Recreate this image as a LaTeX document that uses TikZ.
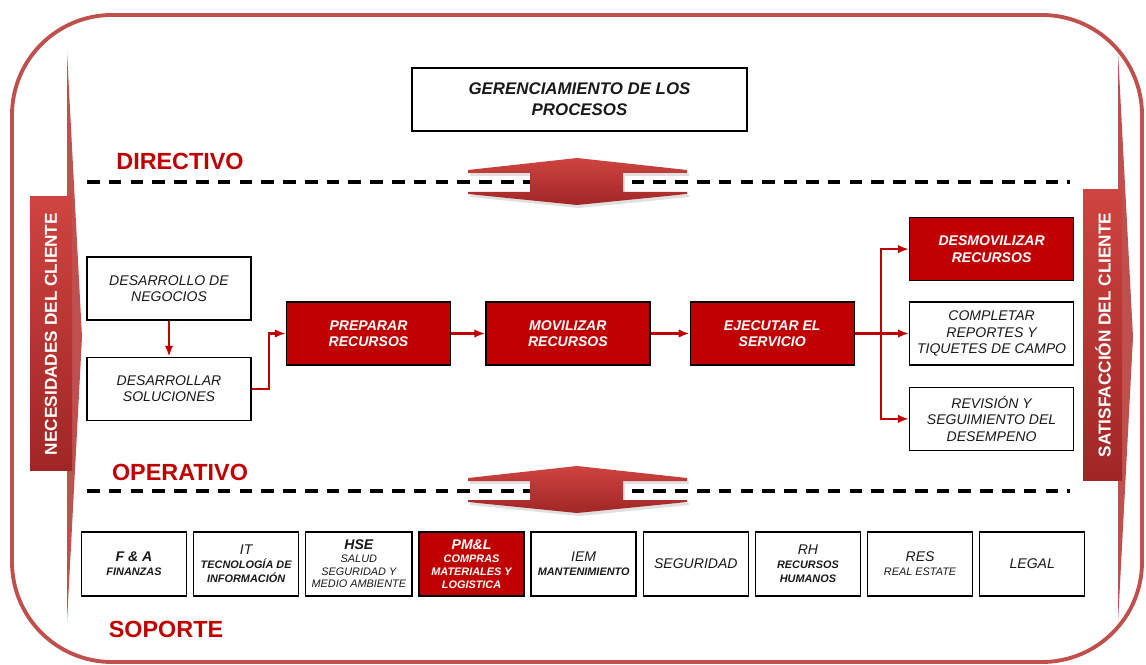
\documentclass[tikz,border=0pt]{standalone}
\usepackage{fontspec}
\setmainfont{Liberation Sans}
\usepackage{tikz}
\usetikzlibrary{positioning}
\usetikzlibrary{shapes,arrows,arrows.meta}
\definecolor{boxred}{RGB}{192,0,0}
\definecolor{framered}{RGB}{192,80,77}
\definecolor{barlight}{RGB}{206,68,64}
\definecolor{bardark}{RGB}{160,38,38}
\newcommand{\subtxt}[1]{{\fontsize{6.2}{7}\selectfont #1}}
\tikzstyle{procbox} = [rectangle, draw=black, line width=0.8pt, fill=white, text=black!90,
                minimum width=3.28cm, minimum height=1.26cm, align=center,
                font=\fontsize{8}{9.4}\selectfont\itshape]
\tikzstyle{redbox} = [procbox, fill=boxred, text=white,
                font=\fontsize{8}{9.4}\selectfont\bfseries\itshape]
\tikzstyle{titlebox} = [procbox, minimum width=6.7cm,
                font=\fontsize{9.6}{11.9}\selectfont\bfseries\itshape]
\tikzstyle{supbox} = [rectangle, draw=black, line width=0.8pt, fill=white, text=black!90,
                minimum width=2.1cm, minimum height=1.28cm, align=center,
                font=\fontsize{8}{7.9}\selectfont\itshape]
\tikzstyle{line} = [draw=boxred, line width=1.2pt, -{Latex[length=6.2pt,width=4.8pt]}]
\tikzstyle{level} = [text=boxred, font=\fontsize{13.3}{15}\selectfont\bfseries]
\tikzstyle{dashline} = [draw=black, line width=2pt, dash pattern=on 7.2pt off 5.2pt]
\tikzstyle{sidetext} = [text=white, rotate=90, font=\fontsize{9.8}{11}\selectfont\bfseries]
\tikzstyle{bigarrow} = [top color=barlight, bottom color=bardark]

\begin{document}
\begin{tikzpicture}[x=0.02cm, y=-0.02cm]
            \useasboundingbox (0,0) rectangle (1146,665);
            \draw[framered, line width=2.2pt, rounded corners=2cm] (12,15) rectangle (1142,662);
            % side bars
            \fill[framered] (67,52) -- (82,337) -- (67,622) -- cycle;
            \shade[bigarrow] (30,197) rectangle (72,470);
            \node[sidetext](necesidades) at (51,334){NECESIDADES DEL CLIENTE};
            \fill[framered] (1118,52) -- (1133,337) -- (1118,622) -- cycle;
            \shade[bigarrow] (1083,190) rectangle (1122,480);
            \node[sidetext](satisfaccion) at (1103,335){SATISFACCIÓN DEL CLIENTE};
            % levels
            \node[titlebox](gerencia) at (579.5,99.5){GERENCIAMIENTO DE LOS\\PROCESOS};
            \node[level](directivo) at (180,161){DIRECTIVO};
            \node[level](operativo) at (180,472){OPERATIVO};
            \node[level](soporte) at (166,629){SOPORTE};
            \draw[dashline] (87,182) -- (1070,182);
            \draw[dashline] (87,491) -- (1070,491);
            \foreach \yy in {0,308} {
              \fill[black!12, shift={(2,\yy+3)}] (577,158) -- (687,170) -- (687,173) -- (623,173) -- (623,192) -- (687,192) -- (687,194) -- (577,205) -- (468,194) -- (468,192) -- (530,192) -- (530,173) -- (468,173) -- (468,170) -- cycle;
              \shade[bigarrow, shift={(0,\yy)}] (577,158) -- (687,170) -- (687,173) -- (623,173) -- (623,192) -- (687,192) -- (687,194) -- (577,205) -- (468,194) -- (468,192) -- (530,192) -- (530,173) -- (468,173) -- (468,170) -- cycle;
            }
            % process
            \node[procbox](negocios) at (169,288.5){DESARROLLO DE\\NEGOCIOS};
            \node[procbox, below=0.72cm of negocios](soluciones){DESARROLLAR\\SOLUCIONES};
            \node[redbox](preparar) at (368.5,333.5){PREPARAR\\RECURSOS};
            \node[redbox, right=0.68cm of preparar](movilizar){MOVILIZAR\\RECURSOS};
            \node[redbox, right=0.78cm of movilizar](ejecutar){EJECUTAR EL\\SERVICIO};
            \node[procbox, right=1.08cm of ejecutar](completar){COMPLETAR\\REPORTES Y\\TIQUETES DE CAMPO};
            \node[redbox, above=0.4cm of completar](desmovilizar){DESMOVILIZAR\\RECURSOS};
            \node[procbox, below=0.42cm of completar](revision){REVISIÓN Y\\SEGUIMIENTO DEL\\DESEMPENO};
            \path[line] (negocios) -- (soluciones);
            \path[line] (soluciones.east) -- ++(17,0) |- (preparar.west);
            \path[line] (preparar) -- (movilizar);
            \path[line] (movilizar) -- (ejecutar);
            \path[line] (ejecutar.east) -- ++(26,0) |- (desmovilizar.west);
            \path[line] (ejecutar) -- (completar);
            \path[line] (ejecutar.east) -- ++(26,0) |- (revision.west);
            % support
            \node[supbox](fa) at (134,564){\textbf{F \& A}\\\subtxt{\bfseries FINANZAS}};
            \node[supbox, right=0.115cm of fa](it){IT\\\subtxt{\bfseries TECNOLOGÍA DE}\\\subtxt{\bfseries INFORMACIÓN}};
            \node[supbox, right=0.115cm of it, font=\fontsize{8}{7.2}\selectfont\itshape](hse){\textbf{HSE}\\\subtxt{SALUD}\\\subtxt{SEGURIDAD Y}\\\subtxt{MEDIO AMBIENTE}};
            \node[supbox, right=0.115cm of hse, fill=boxred, text=white, font=\fontsize{8}{7.4}\selectfont\itshape](pml){\textbf{PM\&L}\\\subtxt{\bfseries COMPRAS}\\\subtxt{\bfseries MATERIALES Y}\\\subtxt{\bfseries LOGISTICA}};
            \node[supbox, right=0.115cm of pml](iem){IEM\\\subtxt{\bfseries MANTENIMIENTO}};
            \node[supbox, right=0.115cm of iem](seguridad){SEGURIDAD};
            \node[supbox, right=0.115cm of seguridad](rh){RH\\\subtxt{\bfseries RECURSOS}\\\subtxt{\bfseries HUMANOS}};
            \node[supbox, right=0.115cm of rh](res){RES\\\subtxt{REAL ESTATE}};
            \node[supbox, right=0.115cm of res](legal){LEGAL};
        \end{tikzpicture}
\end{document}
